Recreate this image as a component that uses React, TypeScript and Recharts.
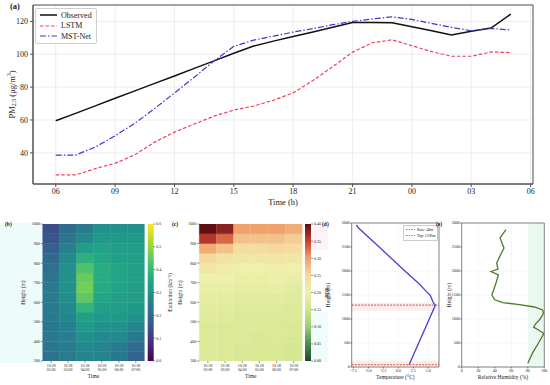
import React from 'react';
import {
  LineChart, Line, XAxis, YAxis, CartesianGrid, Legend, ReferenceArea, ReferenceLine,
  BarChart, Bar, Cell, ScatterChart, Scatter, Label,
} from 'recharts';

const FONT = "'Liberation Serif','Times New Roman',Times,serif";
const INK = '#222';

// ---------------- (a) PM2.5 time series ----------------
const hourLabels = ['06','07','08','09','10','11','12','13','14','15','16','17','18','19','20','21','22','23','00','01','02','03','04','05'];
const observed = [59.5,64,68.6,73.2,77.7,82.3,86.8,91.4,96.0,100.6,105,108,110.8,113.6,116.5,119.3,119.3,119.2,116.8,114.3,111.8,114,116,124.5];
const lstm = [26.5,26.5,30.4,33.6,38.8,46.5,52.6,57.5,62.3,66,68.5,72,76.5,84,92.5,101.3,107,108.8,105.2,101.6,98.8,98.8,101.4,101];
const mstNet = [38.6,38.6,43.5,50.4,58,67,76.4,86,96,104.8,108.6,111,113.5,115.6,118,120,121.5,122.8,121.2,118.8,116.4,114.3,115.8,114.8];
const timeTicks = [0,3,6,9,12,15,18,21,24];
const timeTickLabels = ['06','09','12','15','18','21','00','03','06'];
const pmTicks = [40,60,80,100,120];

// ---------------- (b)/(c) heatmaps ----------------
const heatDate = '10-28';
const heatTimes = ['02:00','03:00','04:00','05:00','06:00','07:00'];
const heightBinEdges = [300,350,400,450,500,550,600,650,700,750,800,850,900,950,1000];
const heightTicks = [300,400,500,600,700,800,900,1000];
// extinction (km^-1), bins from 300 m (first) to 1000 m (last)
const ext0200 = [0.23,0.235,0.24,0.24,0.245,0.25,0.25,0.245,0.235,0.22,0.205,0.185,0.16,0.14];
const ext0300 = [0.25,0.25,0.255,0.26,0.27,0.28,0.29,0.30,0.30,0.295,0.28,0.26,0.235,0.21];
const ext0400 = [0.27,0.28,0.30,0.32,0.34,0.39,0.45,0.47,0.46,0.43,0.38,0.33,0.28,0.25];
const ext0500 = [0.27,0.27,0.28,0.30,0.32,0.34,0.355,0.365,0.37,0.37,0.36,0.345,0.32,0.30];
const ext0600 = [0.24,0.25,0.28,0.30,0.32,0.33,0.34,0.345,0.35,0.35,0.34,0.33,0.32,0.30];
const ext0700 = [0.19,0.21,0.24,0.27,0.30,0.32,0.33,0.335,0.34,0.34,0.335,0.33,0.32,0.30];
const extinctionMax = 0.6;
const extinctionTicks = [0,0.1,0.2,0.3,0.4,0.5,0.6];
// PDR
const pdr0200 = [0.17,0.17,0.17,0.17,0.175,0.18,0.185,0.19,0.20,0.22,0.245,0.29,0.36,0.40];
const pdr0300 = [0.17,0.17,0.17,0.17,0.175,0.18,0.185,0.19,0.20,0.21,0.23,0.27,0.33,0.38];
const pdr0400 = [0.165,0.165,0.17,0.17,0.17,0.175,0.18,0.185,0.19,0.20,0.22,0.24,0.27,0.30];
const pdr0500 = [0.165,0.165,0.165,0.17,0.17,0.175,0.18,0.185,0.19,0.20,0.22,0.24,0.27,0.30];
const pdr0600 = [0.165,0.165,0.17,0.17,0.17,0.175,0.18,0.19,0.195,0.205,0.225,0.25,0.27,0.30];
const pdr0700 = [0.16,0.16,0.165,0.165,0.17,0.17,0.175,0.18,0.19,0.20,0.22,0.24,0.26,0.29];
const pdrMax = 0.4;
const pdrTicks = [0,0.05,0.1,0.15,0.2,0.25,0.3,0.35,0.4];

// ---------------- (d) temperature profile ----------------
const tempHeights = [48,1290,1330,1500,1570,1720,2000,2500,2900,2960];
const tempValues = [1.8,6.2,5.9,5.3,4.7,3.6,1.1,-3.2,-6.7,-7.0];
const boundaryHeights = [48,1290];
const boundaryNames = ['Base: 48m','Top: 1290m'];
const boundaryBands = [[10,130],[1170,1340]];
const tempTicks = [-7.5,-5,-2.5,0,2.5,5];
const profileHeightTicks = [0,500,1000,1500,2000,2500,3000];

// ---------------- (e) relative humidity profile ----------------
const rhHeights = [80,300,500,700,780,830,900,1000,1120,1190,1250,1300,1340,1400,1500,1600,1750,1920,1990,2040,2160,2300,2480,2690,2860];
const rhValues = [80,86,93,99.5,92,87,89.5,95,99,98,88,70,50,40,36.5,38.5,41.5,44.4,35.5,44,42.3,46,51.2,46.4,53.6];
const rhTicks = [0,20,40,60,80,100];
const rhMoistBand = [80,100];

// ---------------- colour maps (style) ----------------
const VIRIDIS = ['#440154','#482475','#414487','#355f8d','#2a788e','#21918c','#22a884','#44bf70','#7ad151','#bddf26','#fde725'];
const PDR_MAP = ['#1d4a2a','#4a8c4e','#9ccc78','#cfe58a','#eff0ab','#f5d89e','#efa26c','#c9402d','#5e0f14'];

function hexToRgb(h: string) {
  const n = parseInt(h.slice(1), 16);
  return [(n >> 16) & 255, (n >> 8) & 255, n & 255];
}
function rampColor(stops: string[], t: number) {
  const c = Math.max(0, Math.min(1, t));
  const p = c * (stops.length - 1);
  const i = Math.min(Math.floor(p), stops.length - 2);
  const f = p - i;
  const a = hexToRgb(stops[i]);
  const b = hexToRgb(stops[i + 1]);
  const m = a.map((v, k) => Math.round(v + (b[k] - v) * f));
  return `rgb(${m[0]},${m[1]},${m[2]})`;
}

const seriesStyle = [
  { key: 'observed', name: 'Observed', color: '#111', dash: undefined as string | undefined, width: 1.5 },
  { key: 'lstm', name: 'LSTM', color: '#f2405a', dash: '3.5 2', width: 1.2 },
  { key: 'mstNet', name: 'MST-Net', color: '#3a3ad0', dash: '6 2 1.5 2', width: 1.2 },
];

const mainData = hourLabels.map((h, i) => ({ x: i, hour: h, observed: observed[i], lstm: lstm[i], mstNet: mstNet[i] }));

const MainLegend = () => (
  <div style={{ border: '1px solid #cfcfcf', borderRadius: 2, background: '#fff', padding: '1px 4px 1px 4px', fontFamily: FONT, fontSize: 8, color: INK }}>
    {seriesStyle.map((s) => (
      <div key={s.key} style={{ display: 'flex', alignItems: 'center', height: 10.5 }}>
        <svg width={17} height={6} style={{ display: 'block' }}>
          <line x1={0} y1={3} x2={17} y2={3} stroke={s.color} strokeWidth={s.width} strokeDasharray={s.dash} />
        </svg>
        <span style={{ marginLeft: 4, whiteSpace: 'nowrap' }}>{s.name}</span>
      </div>
    ))}
  </div>
);

const PmLabel = (props: any) => {
  const vb = props.viewBox || { y: 5, height: 179 };
  const x = 12;
  const y = vb.y + vb.height / 2;
  return (
    <text x={x} y={y} transform={`rotate(-90 ${x} ${y})`} textAnchor="middle" dominantBaseline="central" fontFamily={FONT} fontSize={8.5} fill={INK}>
      PM<tspan dy={2} fontSize={6}>2.5</tspan><tspan dy={-2}> (μg/m</tspan><tspan dy={-3} fontSize={5.5}>3</tspan><tspan dy={3}>)</tspan>
    </text>
  );
};

const rotatedLabel = (text: string, x: number, fontSize: number) => (props: any) => {
  const vb = props.viewBox || { y: 9, height: 137 };
  const y = vb.y + vb.height / 2;
  return (
    <text x={x} y={y} transform={`rotate(-90 ${x} ${y})`} textAnchor="middle" dominantBaseline="central" fontFamily={FONT} fontSize={fontSize} fill={INK}>
      {text}
    </text>
  );
};

const MainXTick = (props: any) => {
  const { x, y, payload } = props;
  return (
    <text x={x} y={y} dy="0.71em" textAnchor="middle" fontFamily={FONT} fontSize={8} fill={INK}>
      {timeTickLabels[timeTicks.indexOf(payload.value)]}
    </text>
  );
};

const HeatTimeTick = (props: any) => {
  const { x, y, payload } = props;
  return (
    <g>
      <text x={x} y={y + 3.3} textAnchor="middle" fontFamily={FONT} fontSize={3.8} fill={INK}>{heatDate}</text>
      <text x={x} y={y + 7} textAnchor="middle" fontFamily={FONT} fontSize={3.8} fill={INK}>{payload.value}</text>
    </g>
  );
};

const bins = heightBinEdges.slice(0, -1).map((_, i) => i);

function Heatmap(p: { cols: number[][]; colorOf: (v: number) => string; left: number; width: number; yAxisWidth: number; rightMargin: number; yLabelX: number }) {
  const data = heatTimes.map((t) => {
    const row: Record<string, any> = { time: t, base: heightBinEdges[0] };
    bins.forEach((i) => { row['r' + i] = heightBinEdges[i + 1] - heightBinEdges[i]; });
    return row;
  });
  return (
    <div style={{ position: 'absolute', left: p.left, top: 215 }}>
      <BarChart width={p.width} height={170} data={data} margin={{ top: 9, right: p.rightMargin, bottom: 2, left: 0 }} barCategoryGap={0} barGap={0}>
        <XAxis dataKey="time" height={22} tickSize={2} tickMargin={0.5} axisLine={false} tickLine={{ stroke: INK, strokeWidth: 0.5 }} tick={<HeatTimeTick />} interval={0}>
          <Label value="Time" position="insideBottom" offset={5} fontFamily={FONT} fontSize={5.5} fill={INK} />
        </XAxis>
        <YAxis type="number" domain={[300, 1000]} allowDataOverflow ticks={heightTicks} width={p.yAxisWidth} tickSize={2} tickMargin={1}
          axisLine={false} tickLine={{ stroke: INK, strokeWidth: 0.5 }} tick={{ fontSize: 4, fontFamily: FONT, fill: INK }}>
          <Label content={rotatedLabel('Height (m)', p.yLabelX, 5.5)} />
        </YAxis>
        <Bar dataKey="base" stackId="h" fill="none" isAnimationActive={false} />
        {bins.map((i) => (
          <Bar key={i} dataKey={'r' + i} stackId="h" isAnimationActive={false}>
            {p.cols.map((c, j) => {
              const col = p.colorOf(c[i]);
              return <Cell key={j} fill={col} stroke={col} strokeWidth={0.4} />;
            })}
          </Bar>
        ))}
      </BarChart>
    </div>
  );
}

function ColorBar(p: { left: number; gradId: string; max: number; ticks: number[]; digits: number; label: string; labelX: number; barLeft: number; barWidth: number }) {
  const width = 45;
  return (
    <div style={{ position: 'absolute', left: p.left, top: 215 }}>
      <BarChart width={width} height={170} data={[{ k: 'cb', v: p.max }]} margin={{ top: 9, right: 0, bottom: 24, left: p.barLeft }} barCategoryGap={0}>
        <XAxis dataKey="k" hide />
        <YAxis orientation="right" type="number" domain={[0, p.max]} allowDataOverflow ticks={p.ticks} width={width - p.barLeft - p.barWidth}
          tickSize={2} tickMargin={1} axisLine={false} tickLine={{ stroke: INK, strokeWidth: 0.5 }}
          tick={{ fontSize: 4, fontFamily: FONT, fill: INK }} tickFormatter={(v: number) => v.toFixed(p.digits)}>
          <Label content={rotatedLabel(p.label, p.labelX, 5.5)} />
        </YAxis>
        <Bar dataKey="v" fill={`url(#${p.gradId})`} isAnimationActive={false} />
      </BarChart>
    </div>
  );
}

const noShape = () => <g />;

const BoundaryLegend = () => (
  <div style={{ border: '0.5px solid #ccc', background: '#fff', padding: '1px 2px', fontFamily: FONT, fontSize: 3.8, color: INK }}>
    {boundaryNames.map((n, i) => (
      <div key={n} style={{ display: 'flex', alignItems: 'center', height: 6 }}>
        <svg width={9} height={3} style={{ display: 'block' }}>
          <line x1={0} y1={1.5} x2={9} y2={1.5} stroke={i === 0 ? '#d9452b' : '#a0522d'} strokeWidth={0.8} strokeDasharray="1.6 1" />
        </svg>
        <span style={{ marginLeft: 2, whiteSpace: 'nowrap' }}>{n}</span>
      </div>
    ))}
  </div>
);

const tickStyleSmall = { fontSize: 4, fontFamily: FONT, fill: INK };

export default function App() {
  const extCols = [ext0200, ext0300, ext0400, ext0500, ext0600, ext0700];
  const pdrCols = [pdr0200, pdr0300, pdr0400, pdr0500, pdr0600, pdr0700];
  const tempData = tempHeights.map((h, i) => ({ h, t: tempValues[i] }));
  const rhData = rhHeights.map((h, i) => ({ h, rh: rhValues[i] }));

  return (
    <div style={{ position: 'absolute', left: 0, top: 0, width: 550, height: 385, background: '#fff', fontFamily: FONT, overflow: 'hidden' }}>
      <svg width={0} height={0} style={{ position: 'absolute' }}>
        <defs>
          <linearGradient id="viridisGrad" x1="0" y1="1" x2="0" y2="0">
            {VIRIDIS.map((c, i) => <stop key={i} offset={i / (VIRIDIS.length - 1)} stopColor={c} />)}
          </linearGradient>
          <linearGradient id="pdrGrad" x1="0" y1="1" x2="0" y2="0">
            {PDR_MAP.map((c, i) => <stop key={i} offset={i / (PDR_MAP.length - 1)} stopColor={c} />)}
          </linearGradient>
        </defs>
      </svg>

      {/* pale halos seen in the reference */}
      <div style={{ position: 'absolute', left: 0, top: 223, width: 42, height: 140, background: '#eefbfb' }} />
      <div style={{ position: 'absolute', left: 312, top: 312, width: 16, height: 50, background: '#f0fbfb' }} />
      <div style={{ position: 'absolute', left: 312, top: 224, width: 16, height: 26, background: '#fdf2f9' }} />

      {/* (a) */}
      <div style={{ position: 'absolute', left: 0, top: 0 }}>
        <LineChart width={550} height={210} data={mainData} margin={{ top: 5, right: 17, bottom: 0, left: 0 }}>
          <CartesianGrid stroke="#e8e8e8" strokeWidth={0.8} />
          <XAxis dataKey="x" type="number" domain={[-1.15, 24.12]} allowDataOverflow ticks={timeTicks}
            height={26} tickSize={3} tickMargin={1} stroke="#555" tick={<MainXTick />}>
            <Label value="Time (h)" position="insideBottom" offset={5} fontFamily={FONT} fontSize={8.5} fill={INK} />
          </XAxis>
          <YAxis type="number" domain={[21, 130]} allowDataOverflow ticks={pmTicks} width={33} tickSize={3} tickMargin={2}
            stroke="#555" tick={{ fontSize: 8, fontFamily: FONT, fill: INK }}>
            <Label content={PmLabel} />
          </YAxis>
          <ReferenceArea x1={-1.15} x2={24.12} y1={21} y2={130} fill="none" stroke="#555" strokeWidth={1} ifOverflow="visible" />
          {seriesStyle.map((s) => (
            <Line key={s.key} type="linear" dataKey={s.key} name={s.name} stroke={s.color} strokeWidth={s.width}
              strokeDasharray={s.dash} dot={false} activeDot={false} isAnimationActive={false} />
          ))}
          <Legend layout="vertical" align="center" verticalAlign="middle" content={<MainLegend />}
            wrapperStyle={{ left: 35, top: 8, width: 'auto', height: 'auto' }} />
        </LineChart>
      </div>
      <div style={{ position: 'absolute', left: 10, top: 2, fontSize: 8.5, fontWeight: 'bold', color: INK, lineHeight: 1 }}>(a)</div>

      {/* (b) */}
      <Heatmap cols={extCols} colorOf={(v) => rampColor(VIRIDIS, v / extinctionMax)} left={0} width={150} yAxisWidth={42.7} rightMargin={5.7} yLabelX={23} />
      <ColorBar left={140} gradId="viridisGrad" max={extinctionMax} ticks={extinctionTicks} digits={1} label="Extinction (km⁻¹)" labelX={30} barLeft={7.7} barWidth={5.6} />
      <div style={{ position: 'absolute', left: 5, top: 222, fontSize: 5.5, fontWeight: 'bold', color: INK, lineHeight: 1 }}>(b)</div>

      {/* (c) */}
      <Heatmap cols={pdrCols} colorOf={(v) => rampColor(PDR_MAP, v / pdrMax)} left={160} width={145} yAxisWidth={39.3} rightMargin={2.7} yLabelX={20} />
      <ColorBar left={300} gradId="pdrGrad" max={pdrMax} ticks={pdrTicks} digits={2} label="PDR" labelX={27} barLeft={5} barWidth={6} />
      <div style={{ position: 'absolute', left: 172, top: 222, fontSize: 5.5, fontWeight: 'bold', color: INK, lineHeight: 1 }}>(c)</div>

      {/* (d) */}
      <div style={{ position: 'absolute', left: 320, top: 215 }}>
        <ScatterChart width={122} height={170} margin={{ top: 8, right: 3, bottom: 2, left: 0 }}>
          <CartesianGrid stroke="#ececec" strokeWidth={0.5} />
          {boundaryBands.map((b, i) => (
            <ReferenceArea key={i} y1={b[0]} y2={b[1]} fill="#fbdcdc" fillOpacity={0.55} stroke="none" ifOverflow="visible" />
          ))}
          <XAxis type="number" dataKey="t" domain={[-7.8, 6.8]} allowDataOverflow ticks={tempTicks} height={16}
            tickFormatter={(v: number) => v.toFixed(1)} tickSize={1.5} tickMargin={0.5} axisLine={false}
            tickLine={{ stroke: INK, strokeWidth: 0.5 }} tick={tickStyleSmall}>
            <Label value="Temperature (°C)" position="insideBottom" offset={4} fontFamily={FONT} fontSize={5.5} fill={INK} />
          </XAxis>
          <YAxis type="number" dataKey="h" domain={[0, 3000]} allowDataOverflow ticks={profileHeightTicks} width={31.7}
            tickSize={1.5} tickMargin={0.5} axisLine={false} tickLine={{ stroke: INK, strokeWidth: 0.5 }} tick={tickStyleSmall}>
            <Label content={rotatedLabel('Height (m)', 8, 5.5)} />
          </YAxis>
          {boundaryHeights.map((h, i) => (
            <ReferenceLine key={i} y={h} stroke={i === 0 ? '#d9452b' : '#a0522d'} strokeWidth={0.9} strokeDasharray="2 1.2" />
          ))}
          <Scatter data={tempData} line={{ stroke: '#4a40d0', strokeWidth: 1.3 }} lineType="joint" shape={noShape} fill="#4a40d0" isAnimationActive={false} />
          <ReferenceArea x1={-7.8} x2={6.8} y1={0} y2={3000} fill="none" stroke="#555" strokeWidth={0.7} ifOverflow="visible" />
          <Legend layout="vertical" align="center" verticalAlign="middle" content={<BoundaryLegend />}
            wrapperStyle={{ left: 83, top: 9.5, width: 'auto', height: 'auto' }} />
        </ScatterChart>
      </div>
      <div style={{ position: 'absolute', left: 322, top: 222, fontSize: 5.5, fontWeight: 'bold', color: INK, lineHeight: 1 }}>(d)</div>

      {/* (e) */}
      <div style={{ position: 'absolute', left: 432, top: 215 }}>
        <ScatterChart width={118} height={170} margin={{ top: 8, right: 5.7, bottom: 2, left: 0 }}>
          <CartesianGrid stroke="#ececec" strokeWidth={0.5} />
          <ReferenceArea x1={rhMoistBand[0]} x2={rhMoistBand[1]} fill="#e3f6ec" fillOpacity={0.8} stroke="none" ifOverflow="visible" />
          <XAxis type="number" dataKey="rh" domain={[0, 100]} allowDataOverflow ticks={rhTicks} height={16}
            tickSize={1.5} tickMargin={0.5} axisLine={false} tickLine={{ stroke: INK, strokeWidth: 0.5 }} tick={tickStyleSmall}>
            <Label value="Relative Humidity (%)" position="insideBottom" offset={4} fontFamily={FONT} fontSize={5.5} fill={INK} />
          </XAxis>
          <YAxis type="number" dataKey="h" domain={[0, 3000]} allowDataOverflow ticks={profileHeightTicks} width={29.7}
            tickSize={1.5} tickMargin={0.5} axisLine={false} tickLine={{ stroke: INK, strokeWidth: 0.5 }} tick={tickStyleSmall}>
            <Label content={rotatedLabel('Height (m)', 17, 5.5)} />
          </YAxis>
          <Scatter data={rhData} line={{ stroke: '#4d7a2a', strokeWidth: 1.3 }} lineType="joint" shape={noShape} fill="#4d7a2a" isAnimationActive={false} />
          <ReferenceArea x1={0} x2={100} y1={0} y2={3000} fill="none" stroke="#555" strokeWidth={0.7} ifOverflow="visible" />
        </ScatterChart>
      </div>
      <div style={{ position: 'absolute', left: 436, top: 222, fontSize: 5.5, fontWeight: 'bold', color: INK, lineHeight: 1 }}>(e)</div>
    </div>
  );
}
